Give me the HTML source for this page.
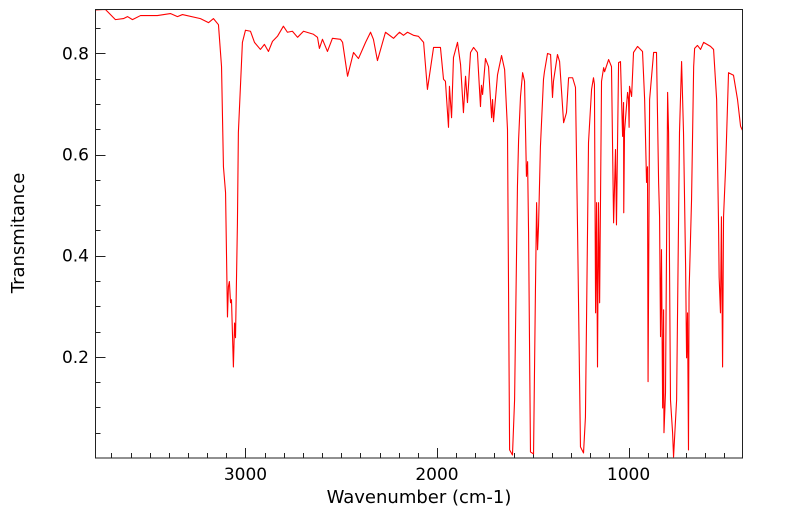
<!DOCTYPE html>
<html><head><meta charset="utf-8"><style>
html,body{margin:0;padding:0;background:#fff;}
svg text{font-family:"DejaVu Sans","Liberation Sans",sans-serif;fill:#000;}
</style></head><body>
<svg id="chart" width="799" height="516" xmlns="http://www.w3.org/2000/svg">
<g id="axes"></g>
<g id="series"></g>
<rect x="95.5" y="9.5" width="647" height="448.5" fill="none" stroke="#222" stroke-width="1"/>
<text x="419" y="503" font-size="18" text-anchor="middle">Wavenumber (cm-1)</text>
<text x="24" y="233" font-size="18" text-anchor="middle" transform="rotate(-90 24 233)">Transmitance</text>
</svg>
<script>
const wavenumbers=[3783,3731,3679,3637,3616,3590,3548,3460,3392,3355,3329,3235,3193,3167,3141,3125,3115,3104,3094,3089,3084,3078,3073,3063,3057,3052,3042,3037,3016,3000,2974,2953,2922,2901,2880,2859,2833,2802,2781,2755,2728,2697,2645,2624,2614,2598,2572,2546,2504,2493,2467,2436,2410,2373,2347,2332,2311,2269,2227,2196,2175,2154,2123,2097,2070,2050,2018,1982,1966,1956,1940,1935,1924,1914,1893,1877,1862,1851,1841,1825,1809,1789,1773,1768,1762,1747,1731,1715,1710,1705,1684,1663,1647,1632,1621,1606,1595,1580,1574,1564,1553,1543,1533,1527,1522,1512,1496,1486,1480,1475,1470,1460,1444,1439,1423,1407,1397,1392,1371,1360,1339,1324,1313,1292,1277,1266,1251,1235,1225,1209,1193,1183,1178,1172,1167,1162,1157,1151,1141,1130,1125,1104,1089,1078,1068,1063,1052,1042,1031,1026,1025,1021,1005,1000,997,995,984,974,953,927,916,906,901,898,890,869,854,843,838,833,828,822,817,815,807,801,796,791,781,770,765,749,734,723,713,702,697,692,687,684,671,660,655,640,624,608,572,556,540,530,527,520,515,509,504,493,478,452,431,415,405];
const transmittance=[0.886,0.887,0.867,0.869,0.873,0.867,0.875,0.875,0.879,0.873,0.877,0.869,0.861,0.869,0.857,0.774,0.576,0.525,0.279,0.339,0.349,0.307,0.313,0.180,0.267,0.238,0.465,0.644,0.822,0.846,0.844,0.822,0.808,0.818,0.804,0.824,0.834,0.854,0.842,0.844,0.832,0.844,0.838,0.832,0.810,0.828,0.804,0.830,0.828,0.822,0.755,0.802,0.790,0.822,0.842,0.828,0.786,0.842,0.830,0.842,0.836,0.842,0.836,0.834,0.822,0.729,0.812,0.812,0.749,0.745,0.654,0.735,0.673,0.792,0.822,0.778,0.683,0.755,0.703,0.802,0.812,0.802,0.695,0.737,0.719,0.790,0.774,0.673,0.709,0.665,0.758,0.796,0.768,0.650,0.016,0.006,0.115,0.537,0.630,0.715,0.762,0.745,0.557,0.586,0.446,0.012,0.008,0.333,0.505,0.412,0.458,0.616,0.749,0.764,0.800,0.798,0.713,0.745,0.798,0.784,0.663,0.683,0.752,0.752,0.733,0.446,0.022,0.010,0.081,0.624,0.729,0.752,0.739,0.287,0.505,0.180,0.505,0.307,0.745,0.772,0.764,0.788,0.774,0.465,0.610,0.461,0.782,0.784,0.636,0.703,0.485,0.646,0.723,0.709,0.654,0.735,0.715,0.802,0.814,0.804,0.709,0.545,0.576,0.151,0.709,0.802,0.802,0.545,0.477,0.240,0.412,0.099,0.293,0.050,0.129,0.446,0.723,0.644,0.115,0.050,0.002,0.115,0.644,0.784,0.644,0.378,0.198,0.287,0.016,0.327,0.511,0.774,0.810,0.816,0.808,0.822,0.814,0.808,0.709,0.458,0.358,0.287,0.477,0.180,0.477,0.576,0.762,0.757,0.709,0.656,0.648];
const xTickLabels=[3000,2000,1000];
const yTickLabels=[0.2,0.4,0.6,0.8];

const NS="http://www.w3.org/2000/svg";
const X0=95.5,X1=742.5,Y0=9.5,Y1=458;
const WMAX=3783,WMIN=405,TMIN=0,TMAX=0.887;
function xScale(w){return X0+(WMAX-w)/(WMAX-WMIN)*(X1-X0);}
function yScale(t){return Y1-(t-TMIN)/(TMAX-TMIN)*(Y1-Y0);}
const axes=document.getElementById('axes');
function line(x1,y1,x2,y2){const l=document.createElementNS(NS,'line');l.setAttribute('x1',x1);l.setAttribute('y1',y1);l.setAttribute('x2',x2);l.setAttribute('y2',y2);l.setAttribute('stroke','#222');l.setAttribute('stroke-width','1');axes.appendChild(l);return l;}
for(let w=3700;w>=500;w-=100){
  const x=Math.round(xScale(w))+0.5;
  const major=w%1000===0;
  const t=line(x,Y1,x,Y1-(major?10:5));
  
  
}
xTickLabels.forEach(v=>{
  const tx=document.createElementNS(NS,'text');
  tx.setAttribute('x',xScale(v));tx.setAttribute('y',Y1+22);tx.setAttribute('font-size','17');tx.setAttribute('text-anchor','middle');
  tx.textContent=String(v);
  
  
  axes.appendChild(tx);
});
for(let i=1;i<=17;i++){
  const v=i*0.05;
  const y=Math.round(yScale(v))+0.5;
  const major=i%4===0;
  const t=line(X0,y,X0+(major?10:5),y);
  
  
}
yTickLabels.forEach(v=>{
  const tx=document.createElementNS(NS,'text');
  tx.setAttribute('x',89);tx.setAttribute('y',yScale(v)+6);tx.setAttribute('font-size','17');tx.setAttribute('text-anchor','end');
  tx.textContent=v.toFixed(1);
  
  
  axes.appendChild(tx);
});
const path=document.createElementNS(NS,'path');
let d='';
wavenumbers.forEach((w,i)=>{d+=(i?'L':'M')+xScale(w).toFixed(2)+','+yScale(transmittance[i]).toFixed(2);});
path.setAttribute('d',d);path.setAttribute('fill','none');path.setAttribute('stroke','#ff0000');path.setAttribute('stroke-width','1.1');path.setAttribute('stroke-linejoin','round');


document.getElementById('series').appendChild(path);
</script>
</body></html>
